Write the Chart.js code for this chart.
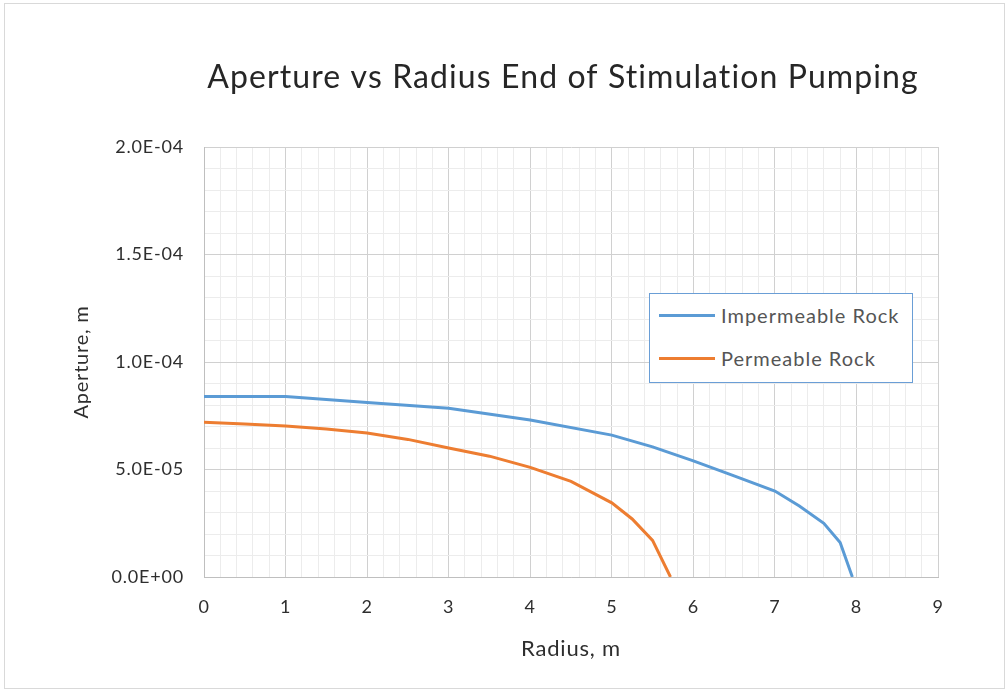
<!DOCTYPE html>
<html>
<head>
<meta charset="utf-8">
<title>Aperture vs Radius</title>
<script src="https://cdn.jsdelivr.net/npm/chart.js@4.4.1/dist/chart.umd.min.js"></script>
<style>
  html, body { margin: 0; padding: 0; background: #ffffff; }
  #wrap { position: relative; width: 1008px; height: 693px; overflow: hidden; }
  #frame { position: absolute; left: 4px; top: 3px; width: 1001px; height: 686px;
           border: 1px solid #d9d9d9; box-sizing: border-box; pointer-events: none; }
  #chart { position: absolute; left: 0; top: 0; }
  #legend { position: absolute; left: 649px; top: 293px; width: 264px; height: 90px;
            box-sizing: border-box; border: 1.5px solid #6a9ed6; background: #ffffff;
            font-family: Lato, "Open Sans", sans-serif; font-size: 20px; letter-spacing: 1px;
            color: #555555; }
  #legend .item { position: absolute; left: 0; height: 24px; display: flex; align-items: center; }
  #legend .swatch { width: 56px; height: 3px; margin-left: 9px; margin-right: 6px; }
</style>
</head>
<body>
<div id="wrap">
  <canvas id="chart" width="1008" height="693"></canvas>
  <div id="legend"></div>
  <div id="frame"></div>
</div>
<script>
// Radius (m) and aperture (m) at the end of stimulation pumping
const radiusImpermeable   = [0, 1, 2, 3, 4, 5, 5.5, 6, 6.5, 7, 7.3, 7.6, 7.8, 7.95];
const apertureImpermeable = [8.4e-5, 8.4e-5, 8.12e-5, 7.85e-5, 7.3e-5, 6.6e-5, 6.05e-5, 5.4e-5, 4.7e-5, 4.0e-5, 3.3e-5, 2.5e-5, 1.6e-5, 0];

const radiusPermeable   = [0, 0.5, 1, 1.5, 2, 2.5, 3, 3.5, 4, 4.5, 5, 5.25, 5.5, 5.72];
const aperturePermeable = [7.2e-5, 7.12e-5, 7.02e-5, 6.88e-5, 6.7e-5, 6.4e-5, 6.0e-5, 5.62e-5, 5.1e-5, 4.45e-5, 3.45e-5, 2.7e-5, 1.7e-5, 0];

const seriesNames  = ['Impermeable Rock', 'Permeable Rock'];
const seriesColors = ['#5b9bd5', '#ed7d31'];

const xTickLabels = ['0', '1', '2', '3', '4', '5', '6', '7', '8', '9'];
const yTickLabels = ['0.0E+00', '5.0E-05', '1.0E-04', '1.5E-04', '2.0E-04'];

const chartTitle = 'Aperture vs Radius End of Stimulation Pumping';

const FONT = 'Lato, "Open Sans", sans-serif';
const TEXT = '#2e2e2e';
const MAJOR_GRID = '#d0d0d0';
const MINOR_GRID = '#ececec';

const toPoints = (xs, ys) => xs.map((x, i) => ({ x: x, y: ys[i] }));

// Major lines every 1 m / 5E-05 m, minor lines every 0.2 m / 1E-05 m
const xMajorIndex = v => { const r = Math.round(v); return Math.abs(v - r) < 1e-6 ? r : -1; };
const yMajorIndex = v => { const s = v / 5e-5; const r = Math.round(s); return Math.abs(s - r) < 1e-6 ? r : -1; };

// Slightly open letter spacing for every label on the canvas
const spacingPlugin = {
  id: 'letterSpacing',
  beforeDraw(chart, args, opts) { chart.ctx.letterSpacing = opts.value; }
};

// Chart heading, centred over the plot block
const headingPlugin = {
  id: 'heading',
  afterDraw(chart, args, opts) {
    const ctx = chart.ctx;
    ctx.save();
    ctx.font = opts.size + 'px ' + FONT;
    ctx.letterSpacing = opts.spacing;
    ctx.fillStyle = opts.color;
    ctx.textAlign = 'center';
    ctx.textBaseline = 'alphabetic';
    ctx.fillText(opts.text, opts.x, opts.y);
    ctx.restore();
  }
};

const chart = new Chart(document.getElementById('chart'), {
  type: 'line',
  data: {
    datasets: [
      { label: seriesNames[0], data: toPoints(radiusImpermeable, apertureImpermeable),
        borderColor: seriesColors[0], backgroundColor: seriesColors[0],
        borderWidth: 3, pointRadius: 0, tension: 0, fill: false },
      { label: seriesNames[1], data: toPoints(radiusPermeable, aperturePermeable),
        borderColor: seriesColors[1], backgroundColor: seriesColors[1],
        borderWidth: 3, pointRadius: 0, tension: 0, fill: false }
    ]
  },
  plugins: [spacingPlugin, headingPlugin],
  options: {
    responsive: false,
    animation: false,
    devicePixelRatio: 1,
    layout: { padding: { left: 0, right: 70, top: 147, bottom: 0 } },
    plugins: {
      legend: { display: false },
      tooltip: { enabled: false },
      title: { display: false },
      letterSpacing: { value: '0.8px' },
      heading: { text: chartTitle, x: 563, y: 88, size: 32, spacing: '1.1px', color: '#262626' }
    },
    scales: {
      x: {
        type: 'linear',
        min: 0, max: 9,
        afterFit: s => { s.height = 116; },
        ticks: {
          stepSize: 0.2, autoSkip: false, maxRotation: 0,
          color: TEXT, font: { family: FONT, size: 18 }, padding: 19,
          callback: v => { const i = xMajorIndex(v); return i >= 0 ? xTickLabels[i] : ''; }
        },
        grid: {
          drawTicks: false, lineWidth: 1,
          color: c => xMajorIndex(c.tick.value) >= 0 ? MAJOR_GRID : MINOR_GRID
        },
        border: { display: true, color: '#bfbfbf', width: 1 },
        title: {
          display: true, text: 'Radius, m', color: TEXT,
          font: { family: FONT, size: 22 }, padding: { top: 0, bottom: 31 }
        }
      },
      y: {
        type: 'linear',
        min: 0, max: 2e-4,
        afterFit: s => { s.width = 204; },
        ticks: {
          stepSize: 1e-5, autoSkip: false,
          color: TEXT, font: { family: FONT, size: 18 }, padding: 20,
          callback: v => { const i = yMajorIndex(v); return i >= 0 ? yTickLabels[i] : ''; }
        },
        grid: {
          drawTicks: false, lineWidth: 1,
          color: c => yMajorIndex(c.tick.value) >= 0 ? MAJOR_GRID : MINOR_GRID
        },
        border: { display: true, color: '#bfbfbf', width: 1 },
        title: {
          display: true, text: 'Aperture, m', color: TEXT,
          font: { family: FONT, size: 20 }, padding: { top: 70, bottom: 0 }
        }
      }
    }
  }
});

// Legend box built from the chart's own dataset labels and colours
const legendEl = document.getElementById('legend');
chart.data.datasets.forEach((ds, i) => {
  const item = document.createElement('div');
  item.className = 'item';
  item.style.top = (i === 0 ? 9 : 52) + 'px';
  const sw = document.createElement('span');
  sw.className = 'swatch';
  sw.style.background = ds.borderColor;
  const tx = document.createElement('span');
  tx.textContent = ds.label;
  item.appendChild(sw);
  item.appendChild(tx);
  legendEl.appendChild(item);
});
</script>
</body>
</html>
